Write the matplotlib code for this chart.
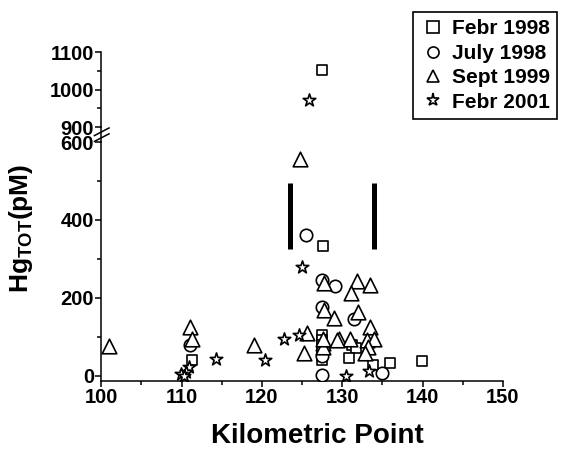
import numpy as np
import matplotlib
matplotlib.use('Agg')
import matplotlib.pyplot as plt
from matplotlib.lines import Line2D

plt.rcParams['font.family'] = ['Liberation Sans', 'DejaVu Sans']
plt.rcParams['font.weight'] = 'bold'
plt.rcParams['mathtext.fontset'] = 'custom'
plt.rcParams['mathtext.rm'] = 'Liberation Sans:bold'
plt.rcParams['mathtext.bf'] = 'Liberation Sans:bold'

# Datos (punto kilometrico, Hg total en pM)
febr98_x = [127.5, 127.6, 127.5, 127.5, 127.5, 127.5, 127.5, 127.5, 111.3, 131.2, 131.7, 130.9, 133.8, 136.0, 139.9]
febr98_y = [1052, 334, 105, 92, 80, 67, 54, 42, 41, 80, 71, 45, 27, 32, 38]

july98_x = [125.5, 127.5, 129.1, 127.5, 131.5, 111.1, 127.5, 127.5, 135.0]
july98_y = [362, 246, 230, 178, 145, 79, 50, 2, 8]

sept99_x = [124.7, 127.7, 131.8, 133.5, 131.1, 127.7, 129.0, 132.0, 133.4, 125.6, 111.0, 111.3, 101.0,
            119.0, 125.2, 129.6, 131.0, 133.1, 134.0, 133.2, 132.8, 127.6, 127.6, 127.6, 129.3]
sept99_y = [556, 238, 243, 233, 214, 168, 148, 164, 126, 110, 125, 94, 77,
            79, 60, 95, 96, 92, 96, 75, 60, 85, 75, 95, 92]

febr01_x = [125.8, 125.0, 124.6, 122.8, 120.4, 114.3, 110.9, 110.5, 109.9, 110.3, 130.5, 133.3]
febr01_y = [972, 279, 105, 96, 40, 44, 24, 11, 4, -1, 1, 13]

barras_x = [123.5, 134.0]
barras_y = [326, 495]

series = [
    (febr98_x, febr98_y, 's', 55, 'Febr 1998'),
    (july98_x, july98_y, 'o', 80, 'July 1998'),
    (sept99_x, sept99_y, '^', 110, 'Sept 1999'),
    (febr01_x, febr01_y, '*', 90, 'Febr 2001'),
]

fig = plt.figure(figsize=(5.62, 4.49), dpi=100)
ax_lo = fig.add_axes([0.180, 0.1514, 0.715, 0.5323])
ax_hi = fig.add_axes([0.180, 0.7171, 0.715, 0.1670], sharex=ax_lo)

handles = []
for xs, ys, m, s, lab in series:
    xs = np.array(xs)
    ys = np.array(ys)
    for ax in (ax_lo, ax_hi):
        ax.scatter(xs, ys, marker=m, s=s, facecolors='white', edgecolors='black',
                   linewidths=1.2, zorder=3)
    handles.append(Line2D([], [], marker=m, linestyle='none', markerfacecolor='white',
                          markeredgecolor='black', markeredgewidth=1.2,
                          markersize=8 if m != '*' else 9.5, label=lab))

# barras verticales
for bx in barras_x:
    ax_lo.plot([bx, bx], barras_y, color='black', linewidth=3.6, solid_capstyle='butt')

ax_lo.set_xlim(100, 150)
ax_lo.set_ylim(-13, 600)
ax_hi.set_ylim(900, 1100)

ax_lo.set_xticks(np.arange(100, 151, 10))
ax_lo.set_xticks(np.arange(105, 150, 10), minor=True)
ax_lo.set_yticks([0, 200, 400, 600])
ax_lo.set_yticks([100, 300, 500], minor=True)
ax_hi.set_yticks([900, 1000, 1100])
ax_hi.set_yticks([950, 1050], minor=True)

for ax in (ax_lo, ax_hi):
    ax.spines['top'].set_visible(False)
    ax.spines['right'].set_visible(False)
    ax.spines['left'].set_linewidth(1.1)
    ax.spines['bottom'].set_linewidth(1.1)
    ax.tick_params(which='major', direction='out', length=4, width=1.1, labelsize=14.5, pad=1)
    ax.tick_params(which='minor', direction='out', length=3, width=1.1)

ax_hi.spines['bottom'].set_visible(False)
ax_hi.tick_params(axis='x', which='both', bottom=False, labelbottom=False)
ax_hi.patch.set_visible(False)

ax_lo.set_xlabel('Kilometric Point', fontsize=20, fontweight='bold')
ax_lo.xaxis.set_label_coords(0.537, -0.175)
ax_lo.set_ylabel(r'Hg$_{\rm TOT}$(pM)', fontsize=19, fontweight='bold')
ax_lo.yaxis.set_label_coords(-0.165, 0.64)

# union del eje y corte //
x0 = 0.180
fig.add_artist(Line2D([x0, x0], [0.6837, 0.7171], color='black', linewidth=1.1))
for yc in [0.7060, 0.6930]:
    fig.add_artist(Line2D([x0 - 0.012, x0 + 0.014], [yc - 0.008, yc + 0.009],
                          color='black', linewidth=1.1))

leg = fig.legend(handles=handles, loc='upper right', bbox_to_anchor=(0.991, 0.973),
                 borderaxespad=0, frameon=True, fancybox=False, framealpha=1,
                 edgecolor='black', fontsize=15, handletextpad=0.3, labelspacing=0.26,
                 handlelength=1.2, borderpad=0.35)
leg.get_frame().set_linewidth(1.2)
for t in leg.get_texts():
    t.set_fontweight('bold')

fig.savefig('out.png', dpi=100)
